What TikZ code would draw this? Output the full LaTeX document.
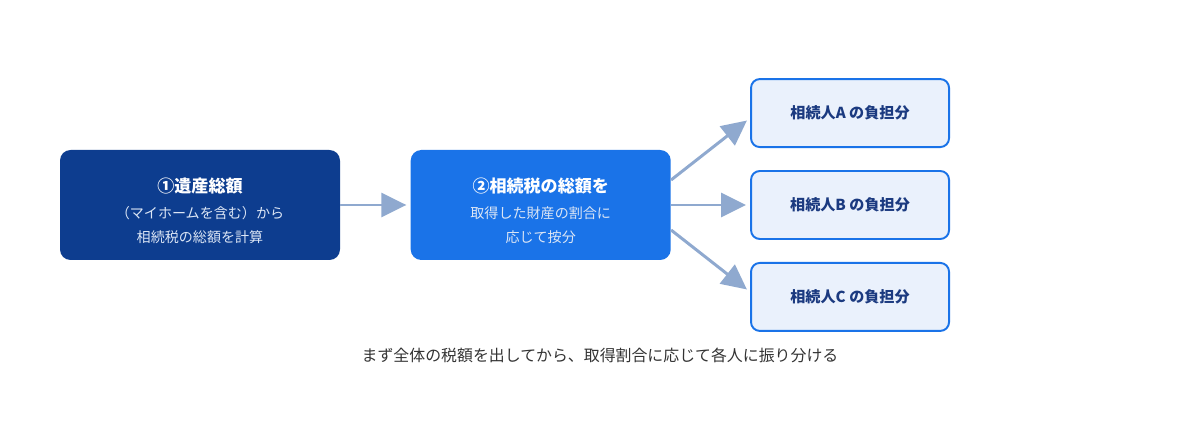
\documentclass[tikz,border=0pt]{standalone}
\usepackage{fontspec}
\setmainfont{Noto Sans CJK JP}
\usetikzlibrary{arrows.meta,positioning,calc}
\definecolor{stdark}{HTML}{0D3D8F}
\definecolor{stblue}{HTML}{1A73E8}
\definecolor{stpale}{HTML}{EAF1FC}
\definecolor{starrow}{HTML}{8FA9CF}
\definecolor{stnavy}{HTML}{1B3A80}
\definecolor{stsub}{HTML}{DCE6F5}
\definecolor{stcap}{HTML}{333333}
\tikzset{
  stepdark/.style={fill=stdark,rounded corners=6pt,align=center,text=white,
              font=\fontsize{8}{13.5}\selectfont,
              minimum width=5.6cm,minimum height=2.2cm,inner sep=2pt},
  stepblue/.style={fill=stblue,rounded corners=6pt,align=center,text=white,
              font=\fontsize{8}{13.5}\selectfont,
              minimum width=5.2cm,minimum height=2.2cm,inner sep=2pt},
  heir/.style={draw=stblue,line width=1.1pt,fill=stpale,rounded corners=5pt,
              align=center,text=stnavy,font=\fontsize{8.6}{10}\selectfont\bfseries,
              minimum width=3.96cm,minimum height=1.36cm},
  ar/.style={-{Triangle[length=5mm,width=4.8mm]},line width=1.7pt,starrow,shorten >=0.8mm},
  notetext/.style={font=\fontsize{9.05}{11}\selectfont,text=stcap},
}
\newcommand{\sttitlefont}{\rule{0pt}{15pt}\fontsize{9.7}{12}\selectfont\bfseries}
\newcommand{\stsubfont}{\fontsize{8}{13.5}\selectfont\color{stsub}}

\begin{document}
\begin{tikzpicture}[node distance=4.4mm and 1.4cm]
    \useasboundingbox (0,0) rectangle (24,8.4);
    \node[stepdark] (total) at (4,4.3) {{\sttitlefont ①遺産総額}\\[1.5pt]
      {\stsubfont （マイホームを含む）から}\\{\stsubfont 相続税の総額を計算}};
    \node[stepblue,right=of total] (split) {{\sttitlefont ②相続税の総額を}\\[1.5pt]
      {\stsubfont 取得した財産の割合に}\\{\stsubfont 応じて按分}};
    \node[heir,right=1.58cm of split] (hb) {相続人B の負担分};
    \node[heir,above=of hb] (ha) {相続人A の負担分};
    \node[heir,below=of hb] (hc) {相続人C の負担分};
    \node[notetext] (note) at (12,1.3) {まず全体の税額を出してから、取得割合に応じて各人に振り分ける};
    \draw[ar](total)--(split);
    \draw[ar]([yshift=5mm]split.east)--([yshift=-1mm]ha.west);
    \draw[ar](split)--(hb);
    \draw[ar]([yshift=-5mm]split.east)--([yshift=1mm]hc.west);
  \end{tikzpicture}
\end{document}
